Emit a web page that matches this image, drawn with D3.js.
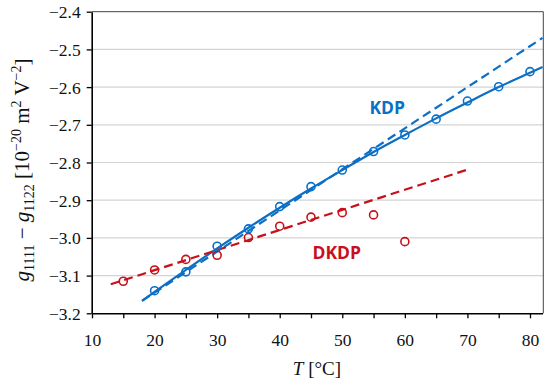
<!DOCTYPE html>
<html>
<head>
<meta charset="utf-8">
<script src="https://cdn.jsdelivr.net/npm/d3@7"></script>
<style>
  body { margin: 0; background: #fff; }
  svg { display: block; }
</style>
</head>
<body>
<div id="chart"></div>
<script>
// measured points, KDP
let tempKDP = [20, 25, 30, 35, 40, 45, 50, 55, 60, 65, 70, 75, 80];
let gKDP = [-3.140, -3.090, -3.022, -2.976, -2.917, -2.864, -2.820, -2.771, -2.727, -2.685, -2.637, -2.599, -2.559];

// measured points, DKDP
let tempDKDP = [15, 20, 25, 30, 35, 40, 45, 50, 55, 60];
let gDKDP = [-3.115, -3.085, -3.057, -3.046, -2.999, -2.969, -2.945, -2.933, -2.939, -3.010];

// fitted curve for KDP (solid)
let fitTempKDP = [18, 20, 25, 30, 35, 40, 45, 50, 55, 60, 65, 70, 75, 80, 82];
let fitKDP = [-3.167, -3.143, -3.085, -3.028, -2.973, -2.920, -2.869, -2.820, -2.772, -2.727, -2.683, -2.641, -2.600, -2.562, -2.547];

// linear fits (dashed)
let lineTempKDP = [18, 82];
let lineKDP = [-3.167, -2.4695];
let lineTempDKDP = [13, 70];
let lineDKDP = [-3.123, -2.819];

let xTicks = [10, 20, 30, 40, 50, 60, 70, 80];
let xMinorTicks = [10, 15, 20, 25, 30, 35, 40, 45, 50, 55, 60, 65, 70, 75, 80];
let yTicks = [-2.4, -2.5, -2.6, -2.7, -2.8, -2.9, -3.0, -3.1, -3.2];

let width = 550, height = 381;
let pLeft = 91.7, pRight = 543.3, pTop = 11.7, pBottom = 313.3;
let blue = "#0b6fc6", red = "#c8101a";

let x = d3.scaleLinear().domain([10, 82]).range([pLeft + 0.3, pRight - 0.8]);
let y = d3.scaleLinear().domain([-3.2, -2.4]).range([pBottom, pTop]);

let svg = d3.select("#chart").append("svg")
  .attr("width", width)
  .attr("height", height);

// grid
svg.append("g").selectAll("line")
  .data(yTicks.filter(d => d > -3.2 && d < -2.4))
  .enter().append("line")
  .attr("x1", pLeft).attr("x2", pRight)
  .attr("y1", d => y(d)).attr("y2", d => y(d))
  .style("stroke", "#d4d4d4").style("stroke-width", 1.2);

// frame top / right
svg.append("path")
  .attr("d", `M${pLeft},${pTop}H${pRight}V${pBottom}`)
  .style("fill", "none").style("stroke", "#444").style("stroke-width", 1);

// axes
let xAxis = svg.append("g")
  .attr("transform", `translate(0,${pBottom})`)
  .call(d3.axisBottom(x).tickValues(xMinorTicks).tickSize(5).tickSizeOuter(0)
    .tickFormat(d => xTicks.includes(d) ? d : ""));
let yAxis = svg.append("g")
  .attr("transform", `translate(${pLeft},0)`)
  .call(d3.axisLeft(y).tickValues(yTicks).tickSize(5).tickSizeOuter(0)
    .tickFormat(d3.format(".1f")));

[xAxis, yAxis].forEach(a => {
  a.select(".domain").style("stroke", "#000").style("stroke-width", 1.6);
  a.selectAll(".tick line").style("stroke", "#000").style("stroke-width", 1.3);
  a.selectAll("text")
    .style("font-family", "'Liberation Serif', 'Times New Roman', serif")
    .style("font-size", "17.5px").style("fill", "#111");
});
xAxis.selectAll("text").attr("dy", null).attr("y", 33);
yAxis.selectAll("text").attr("x", -11).attr("dy", "0.34em");

let line = d3.line().x(d => x(d[0])).y(d => y(d[1]));
let smooth = d3.line().curve(d3.curveMonotoneX).x(d => x(d[0])).y(d => y(d[1]));

// fit lines
svg.append("path")
  .attr("d", line(d3.zip(lineTempKDP, lineKDP)))
  .style("fill", "none").style("stroke", blue).style("stroke-width", 2.2)
  .style("stroke-dasharray", "9,5");
svg.append("path")
  .attr("d", smooth(d3.zip(fitTempKDP, fitKDP)))
  .style("fill", "none").style("stroke", blue).style("stroke-width", 2.2);
svg.append("path")
  .attr("d", line(d3.zip(lineTempDKDP, lineDKDP)))
  .style("fill", "none").style("stroke", red).style("stroke-width", 2.2)
  .style("stroke-dasharray", "9,5");

// points
function drawPoints(temps, vals, col){
  svg.append("g").selectAll("circle")
    .data(d3.zip(temps, vals))
    .enter().append("circle")
    .attr("cx", d => x(d[0]))
    .attr("cy", d => y(d[1]))
    .attr("r", 4)
    .style("fill", "none").style("stroke", col).style("stroke-width", 1.6);
}
drawPoints(tempDKDP, gDKDP, red);
drawPoints(tempKDP, gKDP, blue);

// series labels
svg.append("text").attr("x", 369.5).attr("y", 113.5).text("KDP")
  .style("font-family", "'Open Sans', sans-serif").style("font-weight", "bold")
  .style("font-size", "17.5px").style("fill", blue);
svg.append("text").attr("x", 312.5).attr("y", 258.5).text("DKDP")
  .style("font-family", "'Open Sans', sans-serif").style("font-weight", "bold")
  .style("font-size", "17.5px").style("fill", red);

// axis titles
let serif = "'Liberation Serif', 'Times New Roman', serif";
let xt = svg.append("text").attr("x", 317).attr("y", 375)
  .attr("text-anchor", "middle")
  .style("font-family", serif).style("font-size", "19px").style("fill", "#111");
xt.append("tspan").style("font-style", "italic").text("T");
xt.append("tspan").text(" [°C]");

let yt = svg.append("text")
  .attr("transform", "translate(29,170) rotate(-90)")
  .attr("text-anchor", "middle")
  .style("font-family", serif).style("font-size", "21px").style("fill", "#111");
yt.append("tspan").style("font-style", "italic").text("g");
yt.append("tspan").attr("dy", 5).style("font-size", "14px").text("1111");
yt.append("tspan").attr("dy", -5).text(" − ");
yt.append("tspan").style("font-style", "italic").text("g");
yt.append("tspan").attr("dy", 5).style("font-size", "14px").text("1122");
yt.append("tspan").attr("dy", -5).text(" [10");
yt.append("tspan").attr("dy", -8).style("font-size", "14px").text("−20");
yt.append("tspan").attr("dy", 8).text(" m");
yt.append("tspan").attr("dy", -8).style("font-size", "14px").text("2");
yt.append("tspan").attr("dy", 8).text(" V");
yt.append("tspan").attr("dy", -8).style("font-size", "14px").text("−2");
yt.append("tspan").attr("dy", 8).text("]");
</script>
</body>
</html>
